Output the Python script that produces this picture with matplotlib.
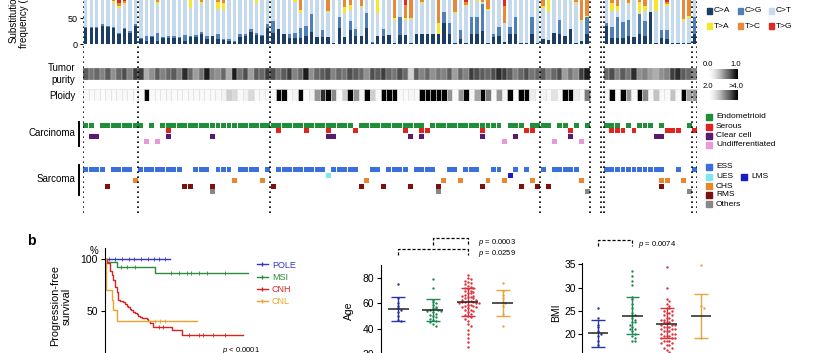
import numpy as np
import matplotlib
matplotlib.use('Agg')
import matplotlib.pyplot as plt
from matplotlib.patches import Rectangle
from matplotlib.lines import Line2D

plt.rcParams['font.family'] = ['Liberation Sans', 'DejaVu Sans']
plt.rcParams['mathtext.fontset'] = 'custom'
plt.rcParams['mathtext.it'] = 'Liberation Sans:italic'
plt.rcParams['mathtext.rm'] = 'Liberation Sans'

W, H = 830, 353

# ---------------- panel a data ----------------
sec1_groups = [10, 24, 49, 9]    # POLE, MSI, CNH, CNL
sec2_groups = [16, 1]

sub_labels = ['C>A', 'C>G', 'C>T', 'T>A', 'T>C', 'T>G']
sub_colors = ['#1c3d66', '#4f80b8', '#c6daee', '#f5e82a', '#e8893a', '#dd2a22']

c2a = ([30, 30, 30, 35, 32, 30, 19, 29, 22, 35] +
       [10, 6, 14, 5, 12, 12, 12, 11, 6, 13, 13, 20, 10, 15, 9, 7, 5, 4, 14, 15, 24, 18, 16, 30] +
       [22, 28, 20, 12, 11, 11, 15, 24, 13, 14, 13, 2, 30, 13, 27, 15, 15, 30, 2, 15, 16, 17, 2, 17, 17,
        2, 20, 20, 20, 20, 20, 41, 20, 2, 10, 2, 20, 20, 25, 2, 14, 15, 4, 20, 20, 2, 2, 20, 2] +
       [9, 8, 22, 20, 15, 28, 2, 5, 20] +
       [35, 12, 11, 11, 15, 13, 20, 15, 62, 2, 11, 10, 2, 2, 2, 2, 20])
c2g = ([3, 2, 2, 3, 2, 2, 3, 2, 3, 3] +
       [1, 9, 1, 17, 1, 3, 3, 3, 11, 2, 4, 4, 6, 1, 10, 2, 4, 2, 5, 4, 4, 4, 1, 8] +
       [23, 0, 0, 8, 11, 19, 20, 34, 0, 12, 0, 0, 21, 0, 18, 14, 0, 29, 1, 0, 13, 0, 0, 34, 0,
        0, 0, 0, 0, 0, 0, 21, 21, 0, 16, 0, 31, 31, 52, 0, 6, 18, 0, 13, 32, 0, 0, 32, 0] +
       [0, 0, 0, 26, 0, 0, 0, 0, 31] +
       [5, 21, 41, 32, 31, 0, 38, 30, 0, 0, 16, 17, 0, 0, 0, 0, 32])
t2a = ([2, 2, 2, 2, 2, 4, 3, 2, 2, 2] +
       [2, 2, 3, 4, 2, 2, 2, 3, 2, 18, 3, 4, 2, 2, 12, 12, 2, 2, 3, 2, 3, 12, 2, 2] +
       [2, 2, 2, 3, 8, 6, 2, 2, 2, 2, 2, 2, 2, 12, 10, 2, 2, 2, 2, 30, 2, 2, 3, 2, 3,
        2, 2, 2, 2, 2, 20, 2, 2, 2, 2, 2, 2, 2, 2, 2, 2, 2, 0, 2, 2, 2, 2, 2, 2] +
       [3, 25, 2, 2, 2, 2, 2, 3, 2] +
       [2, 15, 10, 2, 2, 2, 20, 10, 2, 30, 2, 2, 2, 2, 3, 3, 2])
t2c = ([3, 3, 3, 4, 5, 10, 5, 4, 3, 3] +
       [3, 4, 5, 18, 3, 4, 3, 6, 3, 10, 5, 18, 4, 3, 18, 20, 5, 3, 4, 3, 6, 8, 4, 4] +
       [3, 3, 4, 5, 8, 30, 4, 5, 4, 4, 34, 5, 4, 25, 22, 4, 25, 4, 5, 8, 4, 5, 47, 4, 25,
        40, 4, 18, 4, 5, 58, 4, 5, 38, 5, 5, 4, 15, 18, 30, 4, 5, 33, 4, 5, 10, 5, 4, 5] +
       [25, 10, 4, 5, 5, 4, 18, 50, 45] +
       [4, 20, 25, 8, 20, 4, 18, 25, 4, 5, 4, 4, 5, 4, 50, 45, 5])
t2g = ([5, 4, 6, 5, 8, 8, 22, 18, 4, 4] +
       [1, 1, 1, 2, 1, 1, 1, 1, 1, 2, 1, 2, 1, 1, 2, 2, 1, 1, 1, 1, 1, 2, 1, 1] +
       [1, 1, 1, 1, 4, 5, 1, 1, 1, 1, 2, 1, 1, 4, 3, 1, 1, 1, 1, 3, 1, 1, 3, 1, 25,
        10, 1, 1, 1, 1, 2, 1, 1, 1, 1, 20, 1, 1, 1, 2, 1, 1, 27, 1, 1, 1, 1, 1, 1] +
       [2, 3, 1, 1, 1, 1, 1, 3, 2] +
       [1, 2, 2, 1, 1, 1, 2, 2, 1, 2, 1, 20, 1, 1, 2, 2, 1])

purity = ([0.75, 0.65, 0.7, 0.6, 0.75, 0.55, 0.7, 0.8, 0.6, 0.85] +
          [0.85, 0.45, 0.55, 0.75, 0.6, 0.7, 0.75, 0.6, 0.9, 0.7, 0.5, 0.65, 0.95, 0.6, 0.55, 0.7,
           0.45, 0.95, 0.65, 0.8, 0.5, 0.75, 0.7, 0.85] +
          [0.8, 0.65, 0.75, 0.85, 0.6, 0.7, 0.95, 0.55, 0.7, 0.75, 0.8, 0.6, 0.7, 0.65, 0.8, 0.75,
           0.7, 0.55, 0.8, 0.75, 0.85, 0.7, 0.65, 0.8, 0.7, 0.3, 0.75, 0.6, 0.7, 0.55, 0.65, 0.6,
           0.75, 0.5, 0.7, 0.6, 0.85, 0.8, 0.75, 0.7, 0.8, 0.9, 0.85, 0.75, 0.6, 0.7, 0.8, 0.65, 0.7] +
          [0.75, 0.6, 0.7, 0.8, 0.5, 0.65, 0.55, 0.85, 0.95] +
          [0.7, 0.8, 0.6, 0.75, 0.65, 0.9, 0.55, 0.6, 0.5, 0.45, 0.55, 0.6, 0.85, 0.9, 0.75, 0.7, 0.6])
ploidy = ([0.05, 0.04, 0.05, 0.03, 0.05, 0.04, 0.05, 0.06, 0.04, 0.05] +
          [0.05, 1, 0.05, 0.04, 0.05, 0.06, 0.04, 0.05, 0.04, 0.05, 0.06, 0.05, 0.04, 0.05, 0.06,
           0.1, 0.3, 0.25, 0.05, 0.1, 0.25, 0.05, 0.06, 0.04] +
          [0.05, 1, 1, 0.05, 0.1, 1, 0.05, 0.1, 0.5, 0.85, 1, 0.55, 0.05, 0.3, 1, 0.5, 0.1, 1, 0.3,
           0.05, 1, 1, 1, 0.05, 0.04, 0.08, 0.05, 1, 1, 1, 1, 1, 0.5, 0.05, 0.5, 1, 0.08, 0.45, 1,
           0.6, 0.05, 0.5, 0.1, 1, 0.05, 1, 1, 0.15, 0.05] +
          [0.1, 0.05, 0.2, 0.05, 1, 1, 0.15, 0.05, 0.6] +
          [0.05, 1, 0.05, 1, 0.5, 0.05, 1, 0.55, 0.05, 0.35, 0.05, 0.05, 0.35, 0.05, 1, 0.45, 0.5])

# histology: section-1 sample indices, then section-2 indices
carc_types = ['Endometrioid', 'Serous', 'Clear cell', 'Undifferentiated']
carc_colors = ['#1f8f3a', '#e0251e', '#5a1a6e', '#e69ad8']
carc_s1 = [[0, 1] + list(range(3, 11)) + [12] + list(range(14, 49)) + list(range(50, 62)) +
           list(range(63, 76)) + [77, 78, 79, 81, 82, 83, 84, 86, 87, 89, 91],
           [15, 35, 40, 44, 49, 58, 61, 62, 72, 80, 81, 88],
           [1, 2, 15, 23, 44, 45, 59, 61, 72, 78, 88],
           [11, 13, 76, 85, 90]]
carc_s2 = [[0, 1, 2, 4, 6, 7, 8, 10, 15], [1, 2, 3, 5, 11, 12, 13, 16], [9, 10], []]

sarc_types = ['ESS', 'UES', 'LMS', 'CHS', 'RMS', 'Others']
sarc_colors = ['#3a6fe0', '#7ee6f4', '#1a1acc', '#e8882e', '#7a1212', '#888888']
sarc_rows = [8, 9, 9, 10, 11, 12]
sarc_s1 = [[0, 1, 2, 3, 5, 6, 7, 8] + list(range(10, 18)) + [20, 21, 22, 24, 25, 26, 28, 29, 30, 31, 33] +
           list(range(35, 44)) + list(range(45, 50)) + [52, 53, 55, 56, 57, 58, 60, 61, 62, 63, 66, 67,
           69, 70, 71, 74, 75, 78, 80, 83, 85, 86, 87, 88, 89],
           [44], [77],
           [9, 27, 32, 51, 65, 68, 73, 76, 81, 90],
           [4, 18, 19, 23, 34, 50, 54, 59, 64, 72, 79, 82, 84],
           [23, 64, 91]]
sarc_s2 = [list(range(0, 11)) + [13, 16], [], [], [10, 11, 14], [10], [15]]

# ---------------- panel b data ----------------
km_names = ['POLE', 'MSI', 'CNH', 'CNL']
km_colors = ['#3535c8', '#2e8b3e', '#d8231f', '#f0a32a']
km_t = [[0, 54],
        [0, 1.4, 9.7, 41.7, 119.4],
        [0, 1.4, 4.2, 5.6, 6.9, 8.3, 9.7, 11.1, 12.5, 15.3, 16.5, 18, 19.4, 20.8, 22, 23.6, 25,
         26.4, 27.8, 29.2, 31, 34.7, 36, 37.5, 39.7, 55.6, 63.9, 115],
        [0, 0.6, 1.2, 5.6, 7, 9.7, 77]]
km_s = [[100, 100],
        [100, 97, 92.3, 86.5, 86.5],
        [100, 96, 88, 85, 80, 73, 68, 60.5, 59.5, 58.5, 57, 55, 53.5, 52, 50.5, 49, 48, 47, 45.5,
         44, 43, 42, 40, 38.5, 34.6, 31.7, 27, 27],
        [100, 88, 70, 60.5, 51, 40.4, 40.4]]
km_cens = [[3, 8, 14, 20, 24, 30, 36, 41, 45, 50],
           [13, 18, 25, 55, 62, 68, 72, 78, 85, 100],
           [45, 48, 70, 78, 82, 90, 100],
           [42, 46, 50]]

grp_colors = ['#2a35a5', '#1f8a55', '#e0303a', '#eaa53a']
age_pts = [[75, 64, 60, 58, 56, 55, 53, 50, 47, 46],
           [79, 72, 63, 61, 60, 59, 57, 56, 56, 55, 55, 54, 54, 53, 52, 51, 50, 49, 48, 47, 46, 45, 44, 42],
           [82, 80, 79, 78, 77, 76, 75, 74, 73, 72, 72, 71, 70, 70, 69, 68, 68, 67, 66, 66, 65, 65, 64,
            64, 63, 63, 62, 62, 61, 61, 61, 60, 60, 60, 59, 59, 58, 58, 57, 57, 56, 55, 55, 54, 53, 52,
            51, 50, 49, 48, 46, 44, 42, 39, 36, 33, 30, 26],
           [76, 70, 67, 64, 61, 60, 58, 52, 42]]
age_med = [55.5, 55, 61, 60.5]
age_lo = [46, 46, 50, 50]
age_hi = [65, 63.5, 72.5, 70.5]

bmi_pts = [[25.5, 23.5, 22, 21.5, 20.5, 20, 19.5, 18.5, 17.5, 15.3],
           [33.5, 32.5, 31.5, 30.5, 28, 27.5, 26.5, 25.5, 24.5, 24, 23.5, 23, 22.5, 22.5, 22, 21.5,
            21, 21, 20.5, 20, 19.5, 19, 18.5, 18.5],
           [34.5, 30, 27.5, 27, 26.5, 26, 25.5, 25.5, 25, 25, 24.5, 24.5, 24, 24, 23.5, 23.5, 23, 23,
            23, 22.5, 22.5, 22.5, 22, 22, 22, 21.5, 21.5, 21.5, 21, 21, 21, 20.5, 20.5, 20.5, 20, 20,
            20, 19.5, 19.5, 19.5, 19, 19, 19, 18.5, 18.5, 18.5, 18, 18, 17.5, 17.5, 17, 17, 16.5, 16],
           [34.8, 25.9, 25.5, 19.0]]
bmi_med = [20.2, 23.9, 22.2, 23.9]
bmi_lo = [17.2, 19.9, 19.0, 19.0]
bmi_hi = [23.0, 27.9, 25.5, 28.6]


def box(l, t, r, b):
    return [l / W, 1 - b / H, (r - l) / W, (b - t) / H]


def fx(px):
    return px / W


def fy(py):
    return 1 - py / H


fig = plt.figure(figsize=(8.3, 3.53), dpi=100)

n1, n2 = sum(sec1_groups), sum(sec2_groups)
s2_start = n1 + 2.5
xs1 = np.arange(n1) + 0.5
xs2 = s2_start + np.arange(n2) + 0.5
xs = np.concatenate([xs1, xs2])
XMAX = s2_start + n2
XL, XR = 83, 83 + XMAX * 5.51

# stacked substitution bars
ax_bar = fig.add_axes(box(XL, -8, XR, 44))
stack = np.array([c2a, c2g, np.zeros(len(c2a)), t2a, t2c, t2g], float)
stack[2] = 100 - stack.sum(axis=0)
bottom = np.zeros(len(xs))
for k in range(6):
    ax_bar.bar(xs, stack[k], bottom=bottom, width=0.62, color=sub_colors[k], linewidth=0)
    bottom += stack[k]
ax_bar.set_xlim(0, XMAX)
ax_bar.set_ylim(0, 100)
ax_bar.set_yticks([0, 50, 100])
ax_bar.tick_params(axis='y', labelsize=6.5, length=2, pad=2)
ax_bar.set_xticks([])
for s in ax_bar.spines.values():
    s.set_visible(False)
fig.text(fx(19), fy(18), 'Substitution\nfrequency (%)', rotation=90, ha='center', va='center',
         fontsize=7, linespacing=1.0)

# tumor purity and ploidy rows
ax_pur = fig.add_axes(box(XL, 68, XR, 80))
ax_pur.bar(xs, 1, width=1.0, color=plt.cm.Greys(np.array(purity) * 0.95), edgecolor='#bbbbbb',
           linewidth=0.3)
ax_plo = fig.add_axes(box(XL, 89, XR, 101))
ax_plo.bar(xs, 1, width=1.0, color=plt.cm.Greys(np.array(ploidy)), edgecolor='#dddddd', linewidth=0.4)
for a in (ax_pur, ax_plo):
    a.set_xlim(0, XMAX)
    a.set_ylim(0, 1)
    a.axis('off')
fig.text(fx(75), fy(74), 'Tumor\npurity', ha='right', va='center', fontsize=7, linespacing=1.25)
fig.text(fx(75), fy(96), 'Ploidy', ha='right', va='center', fontsize=7)

# histology squares
ax_his = fig.add_axes(box(XL, 115, XR, 215))
for k in range(4):
    xx = np.concatenate([xs1[carc_s1[k]], xs2[carc_s2[k]]]) if carc_s2[k] else xs1[carc_s1[k]]
    ax_his.bar(xx, 0.9, bottom=k - 0.45, width=0.9, color=carc_colors[k], linewidth=0)
for k in range(6):
    xx = np.concatenate([xs1[sarc_s1[k]], xs2[sarc_s2[k]]]) if sarc_s2[k] else xs1[sarc_s1[k]]
    ax_his.bar(xx, 0.9, bottom=sarc_rows[k] - 0.45, width=0.9, color=sarc_colors[k], linewidth=0)
ax_his.set_xlim(0, XMAX)
ax_his.set_ylim(16.2, -1.8)
ax_his.axis('off')
fig.text(fx(75), fy(133), 'Carcinoma', ha='right', va='center', fontsize=7)
fig.text(fx(75), fy(179), 'Sarcoma', ha='right', va='center', fontsize=7)
fig.add_artist(Line2D([fx(79), fx(79)], [fy(122), fy(146)], color='k', lw=1.4))
fig.add_artist(Line2D([fx(79), fx(79)], [fy(165), fy(195)], color='k', lw=1.4))

# dotted group separators
ax_dot = fig.add_axes(box(XL, -2, XR, 213))
bounds = list(np.concatenate([[0], np.cumsum(sec1_groups)])) + \
    [s2_start - 0.5] + list(s2_start + np.concatenate([[0], np.cumsum(sec2_groups)]))
ax_dot.vlines(bounds, 0, 1, color='k', lw=1.2, linestyles=(0, (1, 2)))
ax_dot.set_xlim(0, XMAX)
ax_dot.set_ylim(0, 1)
ax_dot.axis('off')
ax_dot.patch.set_alpha(0)

# substitution legend
for k in range(6):
    px = 709 + 31 * (k % 3)
    py = 11 + 15 * (k // 3)
    fig.add_artist(Rectangle((fx(px - 2.5), fy(py + 2.5)), 5 / W, 5 / H, color=sub_colors[k]))
    fig.text(fx(px + 5), fy(py), sub_labels[k], fontsize=6, va='center')

# gradient keys
grad = np.linspace(0, 1, 64)[None, :]
for top, lo, hi in [(69, '0.0', '1.0'), (90, '2.0', '>4.0')]:
    ag = fig.add_axes(box(709, top, 738, top + 10))
    ag.imshow(grad, cmap='Greys', aspect='auto')
    ag.axis('off')
    fig.text(fx(708), fy(top - 4), lo, fontsize=5.5, ha='center', va='center')
    fig.text(fx(736), fy(top - 4), hi, fontsize=5.5, ha='center', va='center')

# histology legends
for k, py in enumerate([117, 127, 136, 145]):
    fig.add_artist(Rectangle((fx(706), fy(py + 3)), 6 / W, 6 / H, color=carc_colors[k]))
    fig.text(fx(716), fy(py), carc_types[k], fontsize=6, va='center')
for k, (px, py) in enumerate([(706, 167), (706, 177), (741, 177), (706, 186), (706, 195), (706, 204)]):
    fig.add_artist(Rectangle((fx(px), fy(py + 3)), 6 / W, 6 / H, color=sarc_colors[k]))
    fig.text(fx(px + 10), fy(py), sarc_types[k], fontsize=6, va='center')

# ---------------- panel b ----------------
fig.text(fx(31), fy(241), 'b', fontsize=10, fontweight='bold', ha='center', va='center')

ax_km = fig.add_axes(box(105, 248, 300, 363))
handles = []
for k in range(4):
    t, s = np.array(km_t[k]), np.array(km_s[k])
    ax_km.step(t, s, where='post', color=km_colors[k], lw=1.0)
    c = np.array(km_cens[k])
    cs = s[np.searchsorted(t, c, side='right') - 1]
    ax_km.plot(c, cs, '|', color=km_colors[k], ms=2.5, mew=0.6)
    handles.append(Line2D([], [], color=km_colors[k], lw=1.0, marker='|', ms=3, label=km_names[k]))
ax_km.set_xlim(0, 162.5)
ax_km.set_ylim(0, 110.6)
ax_km.set_yticks([0, 50, 100])
ax_km.set_xticks([])
ax_km.tick_params(axis='y', labelsize=7.5, length=3, pad=2)
for s in ['top', 'right', 'bottom']:
    ax_km.spines[s].set_visible(False)
leg = ax_km.legend(handles=handles, loc='upper left', bbox_to_anchor=(fx(252), fy(256)),
                   bbox_transform=fig.transFigure, frameon=False, fontsize=6.5, handlelength=1.3,
                   handletextpad=0.4, labelspacing=0.35, labelcolor='linecolor', borderpad=0)
fig.text(fx(94), fy(251), '%', fontsize=7, ha='center', va='center')
fig.text(fx(61), fy(306), 'Progression-free\nsurvival', rotation=90, ha='center', va='center',
         fontsize=7.8, linespacing=1.1)
fig.text(fx(241), fy(351), r'$\it{p}$ < 0.0001', fontsize=5.5, ha='center', va='center')


def swarm(vals, binw, dx):
    vals = np.asarray(vals, float)
    offs = np.zeros(len(vals))
    bins = np.floor(vals / binw)
    for b in np.unique(bins):
        idx = np.where(bins == b)[0]
        for k, j in enumerate(idx):
            offs[j] = ((k + 1) // 2) * dx * (1 if k % 2 else -1)
    return offs


def dotplot(ax, pts, med, lo, hi, binw, dx):
    for g in range(4):
        v = np.array(pts[g], float)
        ax.scatter(g + swarm(v, binw, dx), v, s=3, color=grp_colors[g], linewidths=0, zorder=2)
        ax.vlines(g, lo[g], hi[g], color=grp_colors[g], lw=1.0, zorder=3)
        ax.hlines([lo[g], hi[g]], g - 0.2, g + 0.2, color=grp_colors[g], lw=1.0, zorder=3)
        ax.hlines(med[g], g - 0.3, g + 0.3, color='#222222', lw=1.1, zorder=4)
    for s in ['top', 'right', 'bottom']:
        ax.spines[s].set_visible(False)
    ax.set_xticks([])
    ax.tick_params(axis='y', labelsize=7.5, length=3, pad=2)


ax_age = fig.add_axes(box(381, 265, 527, 367))
dotplot(ax_age, age_pts, age_med, age_lo, age_hi, 3, 0.08)
ax_age.set_xlim(-0.49, 3.7)
ax_age.set_ylim(10, 90.2)
ax_age.set_yticks([20, 40, 60, 80])
fig.text(fx(349), fy(311), 'Age', rotation=90, ha='center', va='center', fontsize=7.5)
kw = dict(color='k', lw=0.9, ls=(0, (2.5, 1.5)), clip_on=False)
ax_age.plot([1, 1, 2, 2], [106, 111.3, 111.3, 106], **kw)
ax_age.plot([0, 0, 2, 2], [98, 102.7, 102.7, 98], **kw)
ax_age.text(2.3, 107.5, r'$\it{p}$ = 0.0003', fontsize=5.5, va='center', clip_on=False)
ax_age.text(2.3, 99.6, r'$\it{p}$ = 0.0259', fontsize=5.5, va='center', clip_on=False)

ax_bmi = fig.add_axes(box(582, 263, 725, 380))
dotplot(ax_bmi, bmi_pts, bmi_med, bmi_lo, bmi_hi, 1.0, 0.08)
ax_bmi.set_xlim(-0.47, 3.7)
ax_bmi.set_ylim(10, 35.3)
ax_bmi.set_yticks([15, 20, 25, 30, 35])
ax_bmi.tick_params(axis='y', pad=1.5)
fig.text(fx(556), fy(313), 'BMI', rotation=90, ha='center', va='center', fontsize=7.5)
ax_bmi.plot([0, 0, 1, 1], [39.0, 40.3, 40.3, 39.0], **kw)
ax_bmi.text(1.17, 39.4, r'$\it{p}$ = 0.0074', fontsize=5.5, va='center', clip_on=False)

fig.savefig('out.png', dpi=100)
